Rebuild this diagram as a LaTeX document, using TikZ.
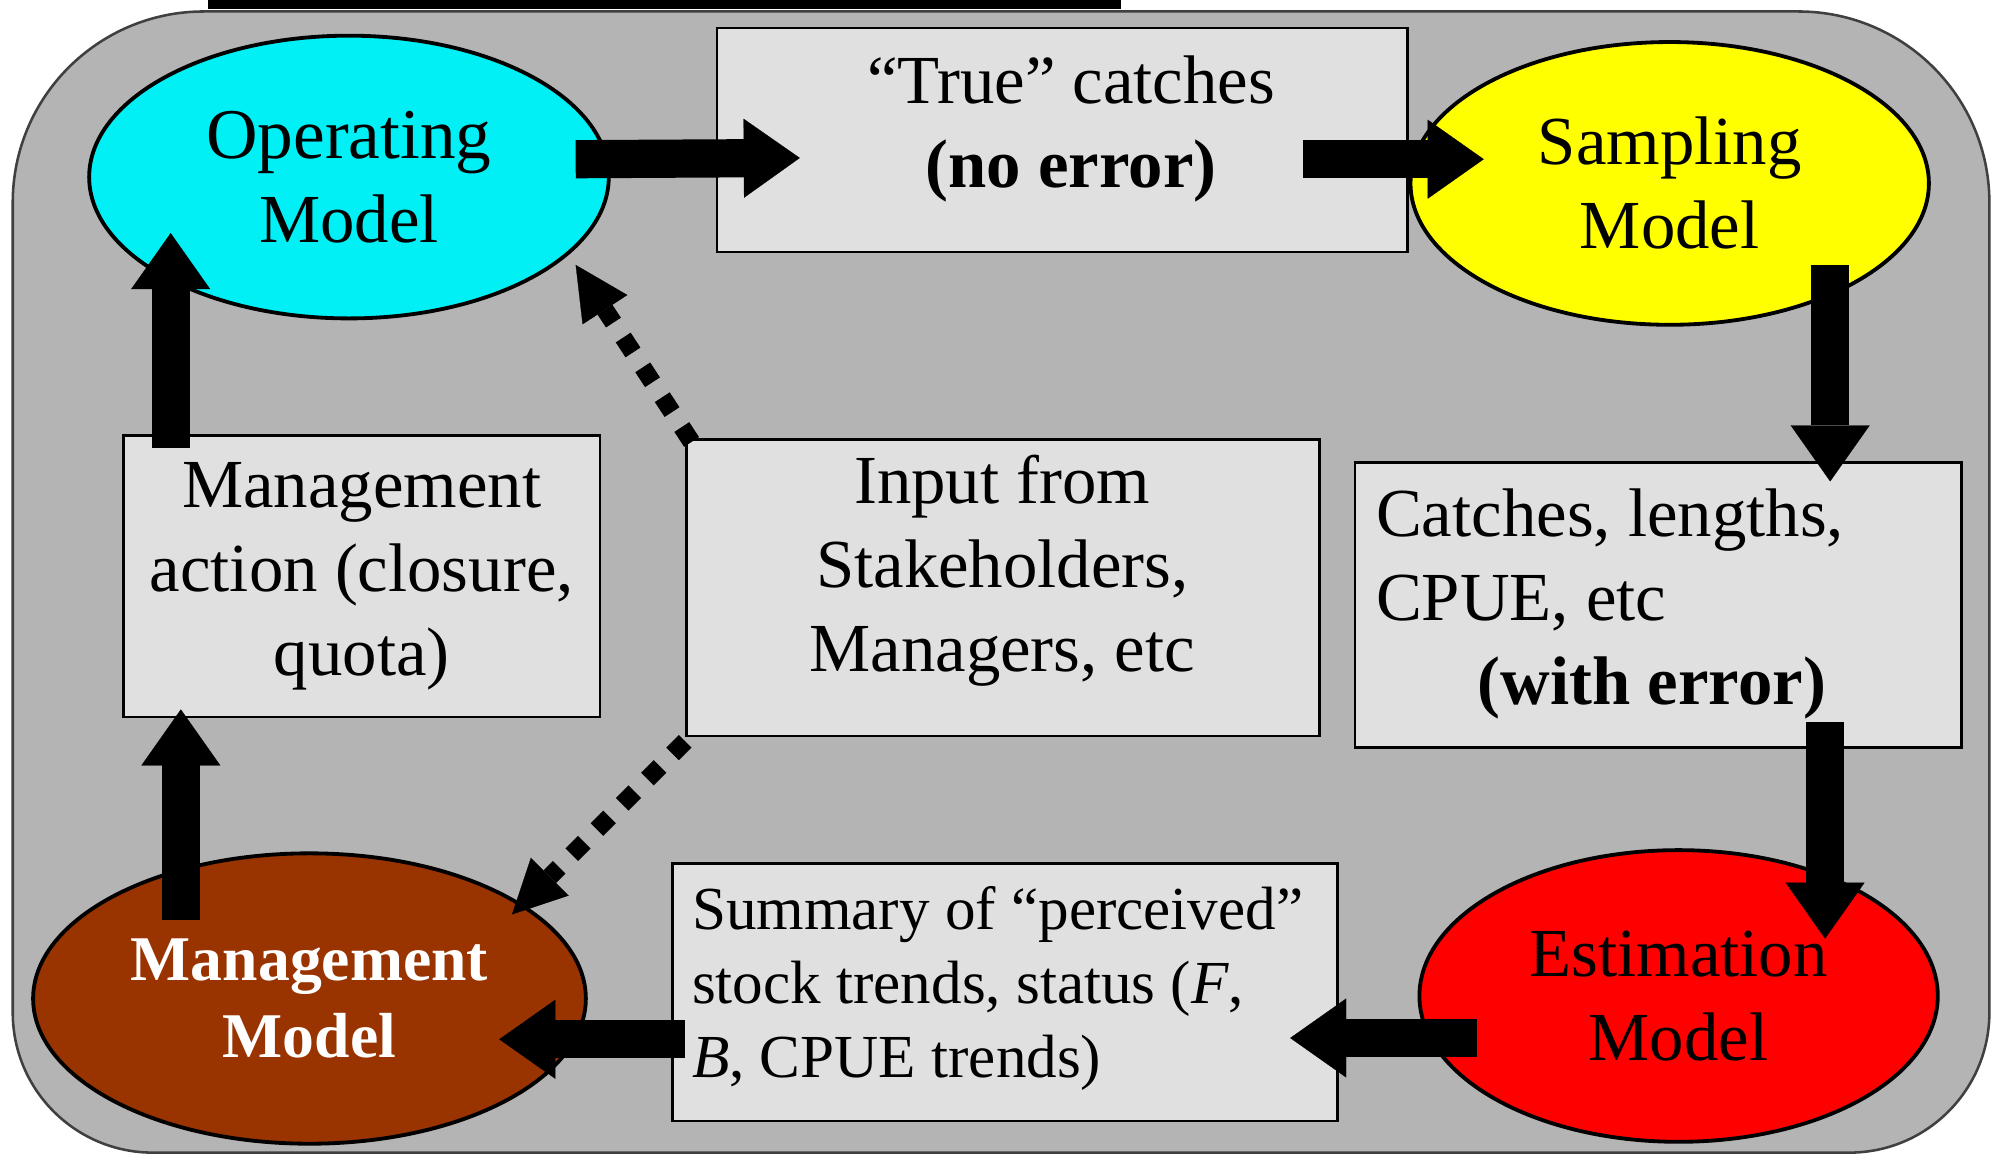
\documentclass[tikz,border=0pt]{standalone}
\usepackage{fontspec}
\setmainfont{Liberation Serif}
\usetikzlibrary{shapes.geometric,arrows.meta,calc}
\definecolor{bggray}{RGB}{180,180,180}
\definecolor{boxgray}{RGB}{224,224,224}
\definecolor{opcyan}{RGB}{0,240,245}
\definecolor{sampyellow}{RGB}{255,255,0}
\definecolor{estred}{RGB}{255,0,0}
\definecolor{mmbrown}{RGB}{153,51,0}
\begin{document}
\begin{tikzpicture}[x=0.5pt,y=-0.5pt,
  model/.style={ellipse, draw=black, line width=1.5pt, inner sep=0pt, align=center,
                font=\fontsize{27}{33}\selectfont},
  infobox/.style={rectangle, draw=black, line width=1pt, fill=boxgray, inner sep=0pt},
  txt/.style={inner sep=0pt, font=\fontsize{27}{33}\selectfont},
  smalltxt/.style={inner sep=0pt, font=\fontsize{24}{29}\selectfont},
  blockarrow/.style={line width=15pt, -{Triangle[length=22pt,width=31pt,line width=0.1pt]}},
  dotarrow/.style={line width=7pt, dash pattern=on 7pt off 7pt,
                   -{Triangle[length=21pt,width=21pt,line width=0.1pt]}},
]
\useasboundingbox (0,0) rectangle (1568,907);
% top black bar and background panel
\fill[black] (163,0) rectangle (880,7);
\draw[fill=bggray, draw=black!75, line width=1pt]
  (780,9) [rounded corners=75pt] -- (1562,9) [rounded corners=55pt] -- (1562,905)
  -- (10,905) [rounded corners=75pt] -- (10,9) [sharp corners] -- cycle;

% boxes
\node[infobox, minimum width=271pt, minimum height=88pt] (tc) at (834,110) {};
\node[infobox, minimum width=187pt, minimum height=110.5pt, align=center,
      font=\fontsize{27}{33}\selectfont] (ma) at (284,452.5)
      {Management\\action (closure,\\quota)};
\node[infobox, minimum width=248.5pt, minimum height=116.5pt] (inp) at (787.5,461.5) {};
\node[infobox, minimum width=238pt, minimum height=112pt] (cat) at (1302,475) {};
\node[infobox, minimum width=261pt, minimum height=101pt] (sum) at (789,779) {};

% box texts
\node[txt, align=center] (tctext) at (841,101) {“True” catches\\\textbf{(no error)}};
\node[txt, align=center] (inptext) at (787,448) {Input from\\Stakeholders,\\Managers, etc};
\node[txt, align=left, anchor=west] (cattext) at (1080,474)
  {Catches, lengths,\\CPUE, etc\\\hspace*{40pt}\textbf{(with error)}};
\node[smalltxt, align=left, anchor=west] (sumtext) at (543,776)
  {Summary of “perceived”\\stock trends, status (\textit{F},\\\textit{B}, CPUE trends)};

% models
\node[model, fill=opcyan, minimum width=204pt, minimum height=111pt] (op) at (274,139)
  {\fontsize{28}{35}\selectfont Operating\\Model};
\node[model, fill=sampyellow, minimum width=203.5pt, minimum height=111pt] (samp) at (1311,144)
  {Sampling\\Model};
\node[model, fill=estred, minimum width=203.5pt, minimum height=114.5pt] (est) at (1318,782)
  {Estimation\\Model};
\node[model, fill=mmbrown, text=white, minimum width=217pt, minimum height=114pt,
      font=\fontsize{25}{30}\selectfont\bfseries] (mm) at (243,784)
  {Management\\Model};

% block arrows
\draw[blockarrow] ($(op.center)+(178,-14)$) -- ($(tc.center)+(-206,14)$);
\draw[blockarrow] ($(tc.center)+(189,15)$) -- ($(samp.center)+(-146,-19)$);
\draw[blockarrow] ($(samp.center)+(126,64)$) -- ($(cat.center)+(135,-97)$);
\draw[blockarrow] ($(cat.center)+(131,92)$) -- ($(est.center)+(115,-45)$);
\draw[blockarrow] ($(est.center)+(-158,33)$) -- ($(sum.center)+(224,36)$);
\draw[blockarrow] ($(sum.center)+(-251,37)$) -- ($(mm.center)+(149,32)$);
\draw[blockarrow] ($(mm.center)+(-101,-62)$) -- ($(ma.center)+(-142,104.5)$);
\draw[blockarrow] ($(ma.center)+(-150,-100.5)$) -- ($(op.center)+(-140,44)$);

% dotted arrows
\draw[dotarrow] ($(inp.center)+(-244.5,-114.5)$) -- ($(op.center)+(178,69)$);
\draw[dotarrow] ($(inp.center)+(-249.5,120.5)$) -- ($(mm.center)+(159,-66)$);
\end{tikzpicture}
\end{document}
